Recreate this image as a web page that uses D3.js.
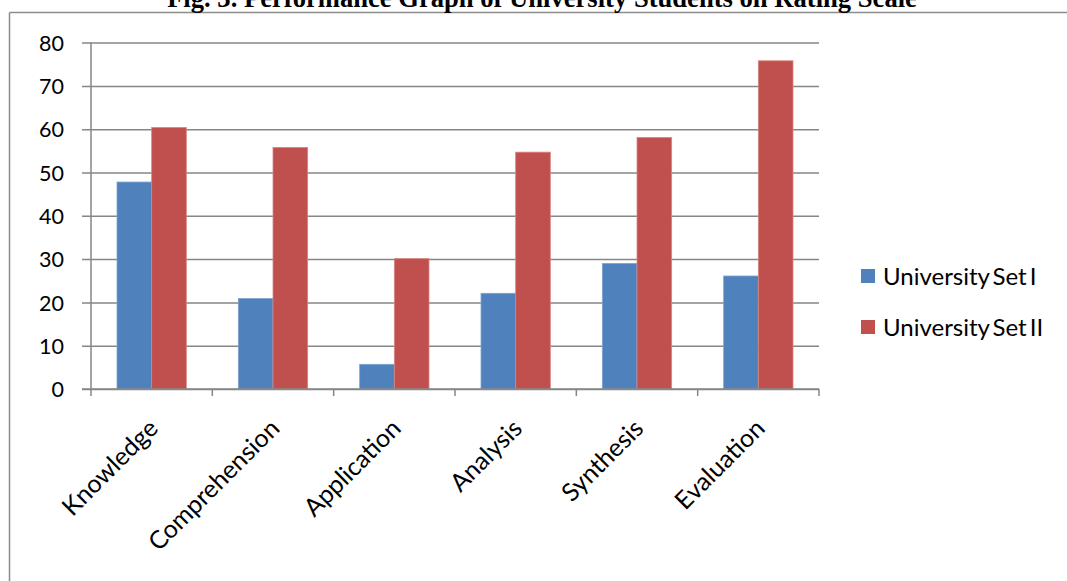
<!DOCTYPE html>
<html>
<head>
<meta charset="utf-8">
<script src="https://cdn.jsdelivr.net/npm/d3@7"></script>
<style>
  html, body { margin: 0; padding: 0; background: #fff; }
  svg { display: block; }
</style>
</head>
<body>
<svg id="chart" width="1067" height="581"></svg>
<script>
// Rating-scale performance by Bloom's level for two university sets
const categories = ["Knowledge", "Comprehension", "Application", "Analysis", "Synthesis", "Evaluation"];
const seriesNames = ["University Set I", "University Set II"];
const setI  = [47.8, 20.9, 5.7, 22.1, 29.0, 26.1];
const setII = [60.4, 55.8, 30.1, 54.7, 58.1, 75.8];
const yTicks = [0, 10, 20, 30, 40, 50, 60, 70, 80];
const titleText = "Fig. 3. Performance Graph of University Students on Rating Scale";

const colors = ["#4F81BD", "#C0504D"];
const edge = ["#7FA3D0", "#D98683"];
const gridColor = "#868686";
const labelFont = "Lato, 'Open Sans', sans-serif";

const svg = d3.select("#chart");

const plot = { left: 91, right: 819, top: 42.6, bottom: 389 };

const x0 = d3.scaleBand().domain(categories).range([plot.left, plot.right]).paddingInner(0).paddingOuter(0);
const x1 = d3.scaleBand().domain(seriesNames).range([0, x0.bandwidth()]).paddingInner(0).paddingOuter(0.75);
const y = d3.scaleLinear().domain([0, 80]).range([plot.bottom, plot.top]);

const rows = categories.map((c, i) => ({ category: c, values: [setI[i], setII[i]] }));

// Frame around the figure
svg.append("line").attr("x1", 9.5).attr("x2", 1067).attr("y1", 12.5).attr("y2", 12.5)
  .attr("stroke", "#8c8c8c").attr("stroke-width", 1.5);
svg.append("line").attr("x1", 9.5).attr("x2", 9.5).attr("y1", 12.5).attr("y2", 581)
  .attr("stroke", "#8c8c8c").attr("stroke-width", 1.5);

// Title (sits above the frame, running off the top edge)
svg.append("text")
  .attr("x", 542).attr("y", 6.5)
  .attr("text-anchor", "middle")
  .attr("font-family", "'Liberation Serif', 'Times New Roman', serif")
  .attr("font-weight", "bold")
  .attr("font-size", 26.6)
  .attr("fill", "#000")
  .text(titleText);

// Y axis with full-width gridlines
const yAxis = d3.axisLeft(y)
  .tickValues(yTicks)
  .tickSize(-(plot.right - plot.left))
  .tickSizeOuter(0)
  .tickPadding(0)
  .tickFormat(d3.format("d"));

const yg = svg.append("g").attr("transform", `translate(${plot.left},0)`).call(yAxis);
yg.select(".domain").remove();
yg.selectAll(".tick line")
  .attr("x1", -9)
  .attr("stroke", gridColor).attr("stroke-width", 1.5);
yg.selectAll(".tick text")
  .attr("x", -27)
  .attr("dy", "0.36em")
  .attr("font-family", labelFont)
  .attr("font-size", 21.5)
  .attr("fill", "#000");

// Left axis line
svg.append("line")
  .attr("x1", plot.left).attr("x2", plot.left)
  .attr("y1", plot.top).attr("y2", plot.bottom)
  .attr("stroke", gridColor).attr("stroke-width", 1.5);

// Bars
const groups = svg.append("g").selectAll("g")
  .data(rows).join("g")
  .attr("transform", d => `translate(${x0(d.category)},0)`);

groups.selectAll("rect")
  .data(d => d.values.map((v, i) => ({ name: seriesNames[i], value: v, i })))
  .join("rect")
  .attr("x", d => x1(d.name))
  .attr("width", x1.bandwidth())
  .attr("y", d => y(d.value))
  .attr("height", d => y(0) - y(d.value))
  .attr("fill", d => colors[d.i])
  .attr("stroke", d => edge[d.i])
  .attr("stroke-width", 0.8);

// X axis: tick marks at category boundaries
const xg = svg.append("g").attr("transform", `translate(0,${plot.bottom})`);
xg.append("line")
  .attr("x1", plot.left - 9).attr("x2", plot.right)
  .attr("stroke", gridColor).attr("stroke-width", 1.5);
const bounds = categories.map(c => x0(c)).concat([x0(categories[categories.length - 1]) + x0.bandwidth()]);
xg.selectAll("line.tk").data(bounds).join("line")
  .attr("class", "tk")
  .attr("x1", d => d).attr("x2", d => d)
  .attr("y1", 0).attr("y2", 7)
  .attr("stroke", gridColor).attr("stroke-width", 1.5);

// Rotated category labels
xg.selectAll("text.cat").data(categories).join("text")
  .attr("class", "cat")
  .attr("text-anchor", "end")
  .attr("transform", d => `translate(${x0(d) + x0.bandwidth() / 2 + 8},${41}) rotate(-45)`)
  .attr("font-family", labelFont)
  .attr("font-size", 25)
  .attr("fill", "#000")
  .text(d => d);

// Legend
const legend = svg.append("g").attr("transform", "translate(861,269)");
const li = legend.selectAll("g").data(seriesNames).join("g")
  .attr("transform", (d, i) => `translate(0,${i * 51})`);
li.append("rect")
  .attr("width", 14).attr("height", 14)
  .attr("fill", (d, i) => colors[i]);
li.append("text")
  .attr("x", 22).attr("y", 7)
  .attr("dy", "0.36em")
  .attr("font-family", labelFont)
  .attr("font-size", 24)
  .attr("word-spacing", -3)
  .attr("fill", "#000")
  .text(d => d);
</script>
</body>
</html>
